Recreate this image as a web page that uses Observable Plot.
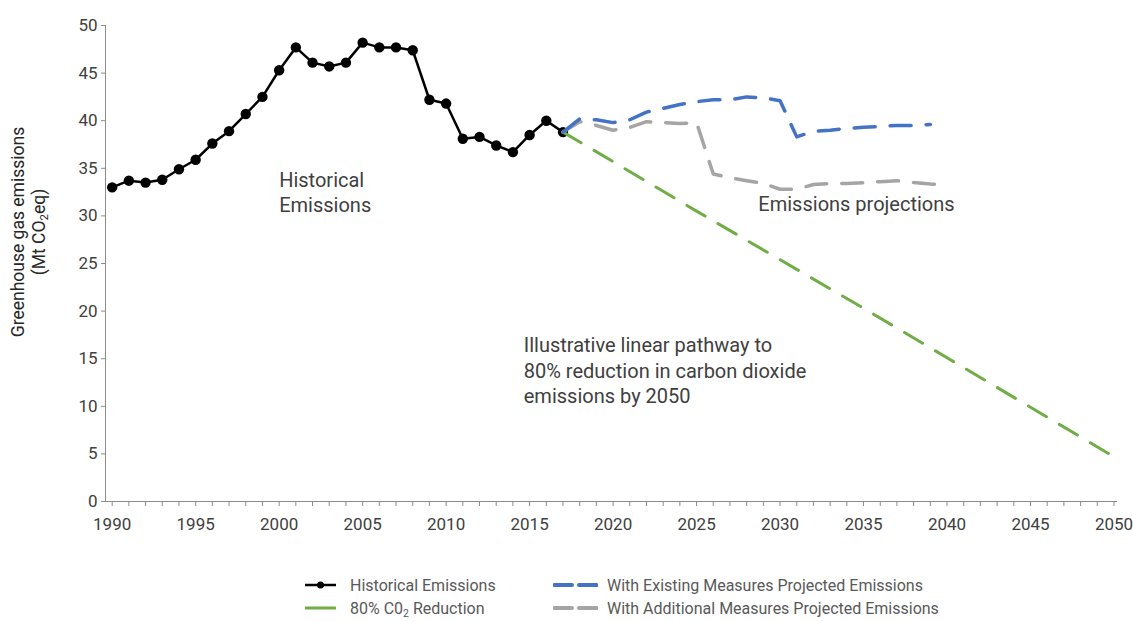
<!DOCTYPE html>
<html><head><meta charset="utf-8">
<script src="https://cdn.jsdelivr.net/npm/d3@7"></script>
<script src="https://cdn.jsdelivr.net/npm/@observablehq/plot@0.6"></script>
<style>
body{margin:0;background:#fff;font-family:Roboto,"Noto Sans",sans-serif;}
#wrap{position:relative;width:1133px;height:621px;overflow:hidden;}
#chart{position:absolute;left:0;top:0;}
#ylab{position:absolute;left:29px;top:232px;transform:translate(-50%,-50%) rotate(-90deg);text-align:center;font-size:17.5px;line-height:21px;color:#262626;white-space:nowrap;}
#ylab sub,.lg sub{font-size:0.65em;vertical-align:-0.25em;line-height:0;}
.lg{position:absolute;font-size:16px;color:#595959;white-space:nowrap;display:flex;align-items:center;height:20px;}
.lg svg{margin-right:14px;}
</style></head>
<body>
<div id="wrap">
  <div id="chart"></div>
  <div id="ylab">Greenhouse gas emissions<br>(Mt CO<sub>2</sub>eq)</div>
  <div id="legend"></div>
</div>
<script>
// ---- data ----
const histYears = [1990,1991,1992,1993,1994,1995,1996,1997,1998,1999,2000,2001,2002,2003,2004,2005,2006,2007,2008,2009,2010,2011,2012,2013,2014,2015,2016,2017];
const histValues = [33.0,33.7,33.5,33.8,34.9,35.9,37.6,38.9,40.7,42.5,45.3,47.7,46.1,45.7,46.1,48.2,47.7,47.7,47.4,42.2,41.8,38.1,38.3,37.4,36.7,38.5,40.0,38.8];

const wemYears = [2017,2018,2019,2020,2021,2022,2023,2024,2025,2026,2027,2028,2029,2030,2031,2032,2033,2034,2035,2036,2037,2038,2039];
const wemValues = [38.8,40.2,40.1,39.8,40.1,40.9,41.3,41.7,42.0,42.2,42.2,42.5,42.4,42.1,38.3,38.9,39.0,39.2,39.3,39.4,39.5,39.5,39.6];

const wamYears = [2017,2018,2019,2020,2021,2022,2023,2024,2025,2026,2027,2028,2029,2030,2031,2032,2033,2034,2035,2036,2037,2038,2039,2040];
const wamValues = [38.8,39.9,39.5,39.0,39.3,39.9,39.8,39.7,39.8,34.4,34.0,33.7,33.4,32.8,32.8,33.3,33.4,33.4,33.5,33.6,33.7,33.5,33.35,33.25];

const pathYears = [2017,2020,2025,2030,2035,2040,2045,2050];
const pathValues = [38.8,35.7,30.5,25.4,20.3,15.1,9.9,4.7];

const yTicks = [0,5,10,15,20,25,30,35,40,45,50];
const xTickYears = d3.range(1990, 2051);

const annotationTexts = ["Historical\nEmissions", "Emissions projections", "Illustrative linear pathway to\n80% reduction in carbon dioxide\nemissions by 2050"];
const annotationYears = [2000, 2028.7, 2014.65];
const annotationValues = [32.6, 31.4, 13.85];

const seriesNames = ["Historical Emissions","80% C0<sub>2</sub> Reduction","With Existing Measures Projected Emissions","With Additional Measures Projected Emissions"];
const colors = {hist:"#000000", path:"#70AD47", wem:"#4472C4", wam:"#A5A5A5"};

// ---- tables ----
const toRows = (ys, vs) => ys.map((y,i)=>({year:y, value:vs[i]}));
const hist = toRows(histYears, histValues);
const wem = toRows(wemYears, wemValues);
const wam = toRows(wamYears, wamValues);
const path = toRows(pathYears, pathValues);
const notes = annotationTexts.map((t,i)=>({text:t, year:annotationYears[i], value:annotationValues[i]}));

const dash = {strokeDasharray:"21,15", strokeLinecap:"round", strokeLinejoin:"round"};

const chart = Plot.plot({
  width:1133, height:545,
  marginLeft:105, marginRight:17, marginTop:25, marginBottom:44,
  style:{fontFamily:"Roboto, 'Noto Sans', sans-serif", background:"#fff", overflow:"visible"},
  x:{domain:[1989.6, 2050.15]},
  y:{domain:[0,50]},
  marks:[
    Plot.axisY({ticks:yTicks, tickSize:4, tickPadding:4, fontSize:17, color:"#404040", stroke:"#8c8c8c", label:null}),
    Plot.axisX({ticks:xTickYears, tickSize:5, tickPadding:11, fontSize:17, color:"#404040", stroke:"#8c8c8c", label:null,
      tickFormat:d=> d%5===0 ? String(d) : ""}),
    Plot.frame({anchor:"left", stroke:"#8c8c8c"}),
    Plot.frame({anchor:"bottom", stroke:"#8c8c8c"}),
    Plot.line(hist, {x:"year", y:"value", stroke:colors.hist, strokeWidth:2.5}),
    Plot.dot(hist, {x:"year", y:"value", r:5.2, fill:colors.hist}),
    Plot.line(path, {x:"year", y:"value", stroke:colors.path, strokeWidth:3, ...dash}),
    Plot.line(wam, {x:"year", y:"value", stroke:colors.wam, strokeWidth:3.5, ...dash}),
    Plot.line(wem, {x:"year", y:"value", stroke:colors.wem, strokeWidth:3.5, ...dash}),
    Plot.text(notes, {x:"year", y:"value", text:"text", textAnchor:"start", lineAnchor:"middle", lineHeight:1.28, fontSize:20, fill:"#404040"})
  ]
});
document.getElementById("chart").appendChild(chart);

// ---- legend ----
const legend = document.getElementById("legend");
const items = [
  {name:seriesNames[0], color:colors.hist, kind:"dot", left:305, top:575},
  {name:seriesNames[1], color:colors.path, kind:"solid", left:305, top:598},
  {name:seriesNames[2], color:colors.wem, kind:"dash", left:553, top:575},
  {name:seriesNames[3], color:colors.wam, kind:"dash", left:553, top:598}
];
items.forEach(it=>{
  const d = document.createElement("div");
  d.className="lg";
  d.style.left = it.left+"px";
  d.style.top = it.top+"px";
  let sw;
  if(it.kind==="dot"){
    sw = `<svg width="31" height="12"><line x1="0" y1="6" x2="31" y2="6" stroke="${it.color}" stroke-width="2.5"/><circle cx="15.5" cy="6" r="3.5" fill="${it.color}"/></svg>`;
  } else if(it.kind==="solid"){
    sw = `<svg width="31" height="12"><line x1="1" y1="6" x2="30" y2="6" stroke="${it.color}" stroke-width="3" stroke-linecap="round"/></svg>`;
  } else {
    sw = `<svg width="45" height="12" style="margin-right:9px"><line x1="1.5" y1="6" x2="19" y2="6" stroke="${it.color}" stroke-width="4" stroke-linecap="round"/><line x1="26" y1="6" x2="43.5" y2="6" stroke="${it.color}" stroke-width="4" stroke-linecap="round"/></svg>`;
  }
  d.innerHTML = sw + `<span>${it.name}</span>`;
  legend.appendChild(d);
});
</script>
</body></html>
